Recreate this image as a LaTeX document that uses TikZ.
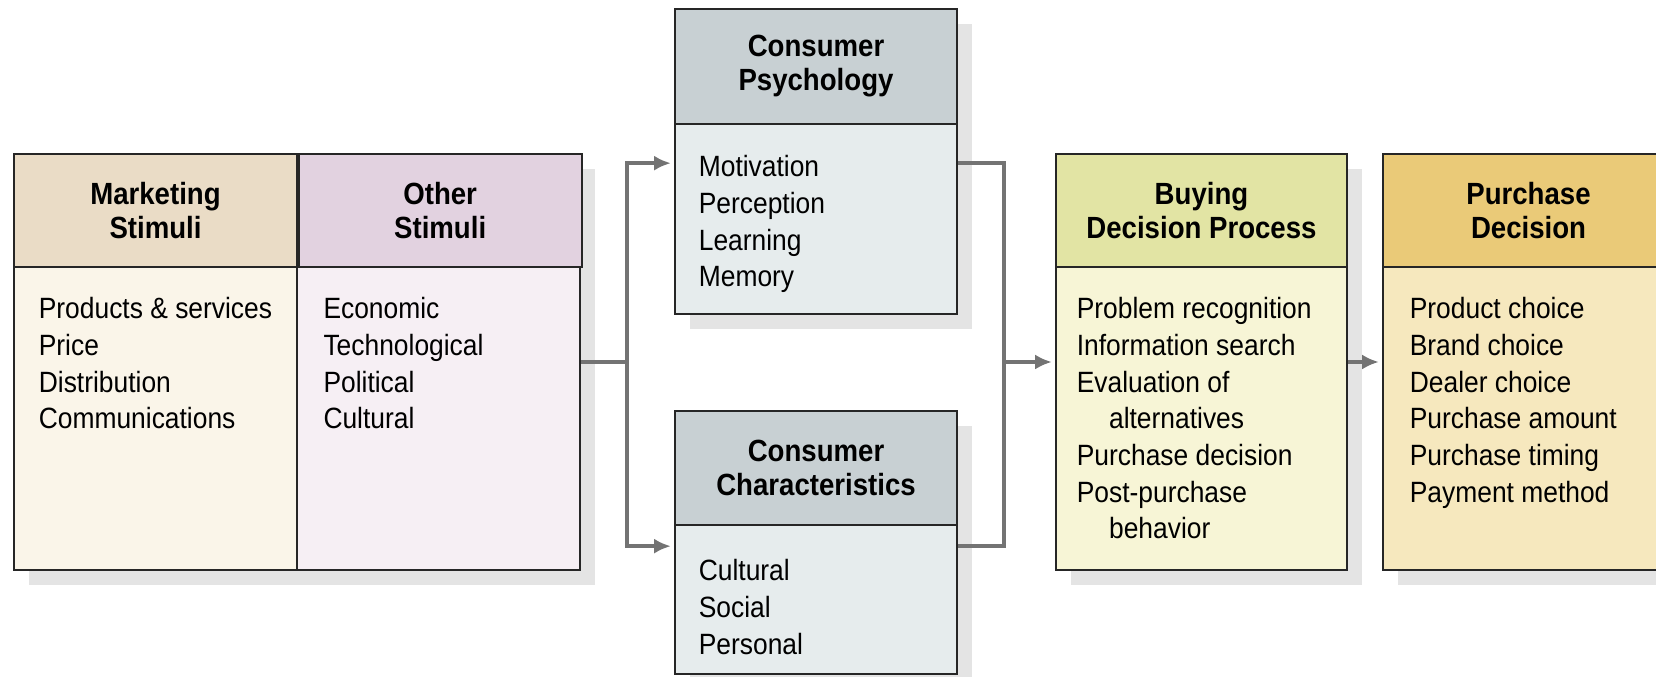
\documentclass[tikz,border=0pt]{standalone}
\usepackage{fontspec}
\setmainfont{Liberation Sans}[FakeStretch=0.9]
\usepackage{tikz}
\usetikzlibrary{arrows.meta,shadows,calc}

\definecolor{mkthead}{HTML}{EADCC6}
\definecolor{mktbody}{HTML}{FAF5E9}
\definecolor{othhead}{HTML}{E2D2E0}
\definecolor{othbody}{HTML}{F6EFF4}
\definecolor{conhead}{HTML}{C8D0D3}
\definecolor{conbody}{HTML}{E6ECED}
\definecolor{buyhead}{HTML}{E2E4A4}
\definecolor{buybody}{HTML}{F7F5D6}
\definecolor{purhead}{HTML}{EACA78}
\definecolor{purbody}{HTML}{F6E8BE}

\newcommand\itemfont{\fontsize{8.8}{11}\selectfont}
\newcommand\headfont{\fontsize{9.2}{10.2}\selectfont\bfseries}

\tikzset{
    box/.style={draw=black!85, line width=0.5pt, inner sep=0pt,
        drop shadow={shadow xshift=4.5pt, shadow yshift=-4.5pt, fill=black!15, opacity=0.7}},
    head/.style={draw=black!85, line width=0.5pt, inner sep=0pt, anchor=north west,
        align=center, font=\headfont},
    items/.style={anchor=north west, inner sep=0pt, align=left, font=\itemfont},
    flow/.style={draw=black!55, line width=1.3pt},
    arr/.style={flow, -{Latex[length=5pt,width=4.5pt]}, shorten >=1pt},
}

\begin{document}
\begin{tikzpicture}[x=0.3pt,y=-0.3pt]
    \clip (0,0) rectangle (1656,677);

    % stimuli
    \node[box, fill=mktbody, minimum width=169.8pt, minimum height=124.8pt] (stim) at (297,362) {};
    \node[draw=black!85, line width=0.5pt, fill=othbody, anchor=north east,
        minimum width=84.9pt, minimum height=124.8pt] (othB) at (stim.north east) {};
    \node[head, fill=mkthead, minimum width=84.9pt, minimum height=33.9pt] (mktH) at (stim.north west) {Marketing\\Stimuli};
    \node[head, fill=othhead, minimum width=84.9pt, minimum height=33.9pt] (othH) at (mktH.north east) {Other\\Stimuli};
    \node[items] (mktL) at ([shift={(25,29)}]mktH.south west)
        {Products \& services\\Price\\Distribution\\Communications};
    \node[items] (othL) at ([shift={(25,29)}]othH.south west)
        {Economic\\Technological\\Political\\Cultural};

    % consumer
    \node[box, fill=conbody, minimum width=84.6pt, minimum height=91.5pt] (psy) at (816,161.5) {};
    \node[head, fill=conhead, minimum width=84.6pt, minimum height=34.5pt] (psyH) at (psy.north west) {Consumer\\Psychology};
    \node[items] (psyL) at ([shift={(24,30)}]psyH.south west)
        {Motivation\\Perception\\Learning\\Memory};

    \node[box, fill=conbody, minimum width=84.6pt, minimum height=78.9pt] (chr) at (816,542.5) {};
    \node[head, fill=conhead, minimum width=84.6pt, minimum height=34.2pt] (chrH) at (chr.north west) {Consumer\\Characteristics};
    \node[items] (chrL) at ([shift={(24,33)}]chrH.south west)
        {Cultural\\Social\\Personal};

    % decision
    \node[box, fill=buybody, minimum width=87.3pt, minimum height=124.8pt] (buy) at (1201.5,362) {};
    \node[head, fill=buyhead, minimum width=87.3pt, minimum height=33.9pt] (buyH) at (buy.north west) {Buying\\Decision Process};
    \node[items] (buyL) at ([shift={(21,29)}]buyH.south west)
        {Problem recognition\\Information search\\Evaluation of\\\hspace*{1.1em}alternatives\\Purchase decision\\Post-purchase\\\hspace*{1.1em}behavior};

    \node[box, fill=purbody, minimum width=87.3pt, minimum height=124.8pt] (pur) at (1528.5,362) {};
    \node[head, fill=purhead, minimum width=87.3pt, minimum height=33.9pt] (purH) at (pur.north west) {Purchase\\Decision};
    \node[items] (purL) at ([shift={(27,29)}]purH.south west)
        {Product choice\\Brand choice\\Dealer choice\\Purchase amount\\Purchase timing\\Payment method};

    % connectors
    \coordinate (split) at (627,362);
    \coordinate (join) at (1004,362);
    \draw[flow] (stim.east) -- (split);
    \draw[arr] (split) |- ($(psy.north west)+(0,155)$);
    \draw[arr] (split) |- ($(chr.north west)+(0,136)$);
    \draw[flow] ($(psy.north east)+(0,155)$) -| (join) |- ($(chr.north east)+(0,136)$);
    \draw[arr] (join) -- (buy.west);
    \draw[arr] (buy.east) -- (pur.west);
\end{tikzpicture}
\end{document}
